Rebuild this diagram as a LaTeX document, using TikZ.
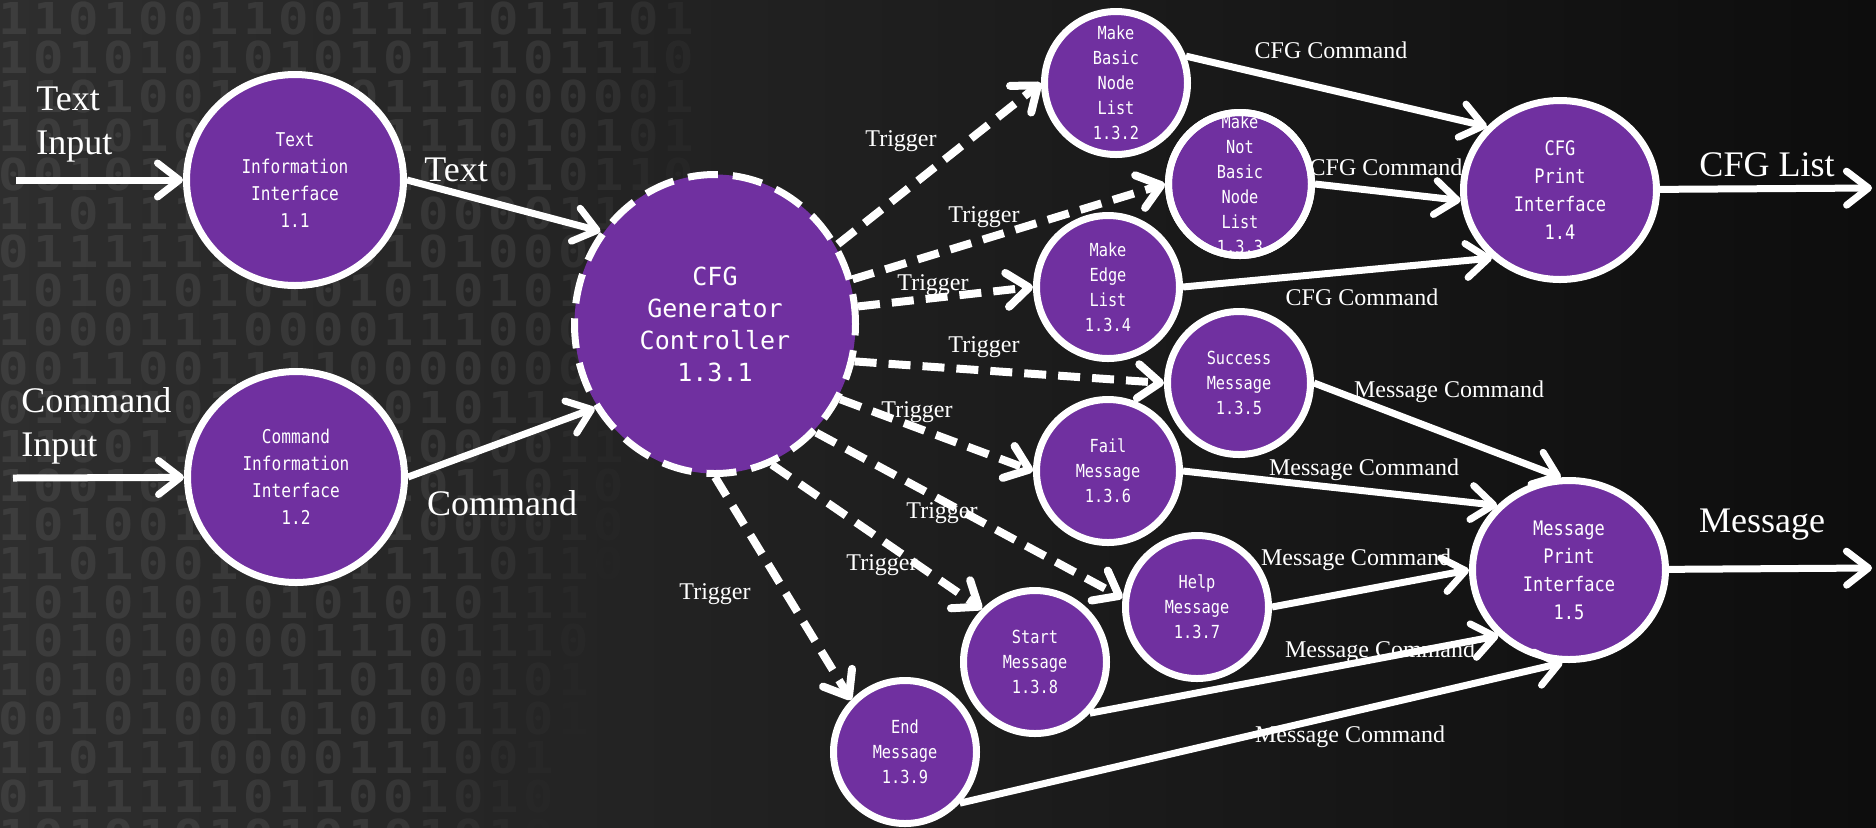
\documentclass[tikz,border=0pt]{standalone}
\usepackage{fontspec}
\setmainfont{Liberation Serif}
\newfontfamily\procfont[FakeStretch=0.85]{DejaVu Sans Mono}
\newfontfamily\ctrlfont{DejaVu Sans Mono}
\newfontfamily\bitfont[FakeStretch=1.15]{DejaVu Sans Mono Bold}
\usetikzlibrary{arrows.meta,shapes.geometric}

\definecolor{procpurple}{HTML}{7030A0}
\definecolor{bgleft}{HTML}{2E2E2E}
\definecolor{bgmid}{HTML}{1D1D1D}
\definecolor{bgright}{HTML}{0D0D0D}

% one row of background bits, fading out to the right
\newcommand\bitrow[2]{%
    \edef\bitrowno{#2}%
    \pgfmathsetmacro\bity{18.5+38.9*#2}\def\bitcol{0}%
    \expandafter\bitloop#1\relax}
\def\bitloop#1{%
    \ifx#1\relax\let\bitnext\relax
    \else
        \pgfmathsetmacro\bitx{14+35*\bitcol}%
        \pgfmathsetmacro\bitop{0.075*min(1,max(0,(770-0.25*\bity-\bitx)/180))}%
        \node[bit, text opacity=\bitop] (bit\bitrowno-\bitcol) at (\bitx,\bity) {#1};%
        \pgfmathtruncatemacro\bitcol{\bitcol+1}%
        \let\bitnext\bitloop
    \fi\bitnext}

\begin{document}
\begin{tikzpicture}[
        x=0.5pt, y=-0.5pt,
        font=\fontsize{12}{14}\selectfont,
        text=white
    ]
    \tikzset{
        bit/.style = {font=\bitfont\fontsize{22}{22}\selectfont, inner sep=0pt},
        procnode/.style = {circle, draw=white, line width=3.5pt, fill=procpurple, align=center, inner sep=0pt, minimum size=71.5pt, font=\procfont\fontsize{9}{12.5}\selectfont},
        ifacenode/.style = {procnode, ellipse, minimum width=108.5pt, minimum height=105.5pt, font=\procfont\fontsize{9.5}{13.5}\selectfont},
        printnode/.style = {procnode, ellipse, minimum width=96.5pt, minimum height=89.5pt, font=\procfont\fontsize{10}{14}\selectfont},
        ctrlnode/.style = {procnode, ellipse, minimum width=140.5pt, minimum height=149.5pt, dash pattern=on 15pt off 7.5pt, font=\ctrlfont\fontsize{12.5}{16}\selectfont},
        flow/.style = {-{Straight Barb[length=11pt, width=17pt, round]}, draw=white, line width=3.5pt},
        trig/.style = {flow, line width=4pt, dash pattern=on 11pt off 6pt},
        iolbl/.style = {inner sep=0pt, font=\fontsize{18}{22}\selectfont, align=left},
    }
    \useasboundingbox (0,0) rectangle (1876,827);
    \shade[left color=bgleft, middle color=bgmid, right color=bgright] (0,0) rectangle (1876,827);
    %
    \foreach \bits [count=\i from 0] in {
        11010011001111011101, 10101010101011101110, 11010010010111000001,
        10101010100111010101, 00101010101101010110, 11011110100100001101,
        01111111010101000111, 10101010101010101111, 10001110000111000011,
        00110011110000000010, 01001010110010111001, 11001101011100001101,
        10010100110101101000, 10100101011100001001, 11010010011111011011,
        10101010101010111010, 10101000011101110101, 10101001110100101011,
        00101001010101101110, 11011100001110011011, 01111110110010101010,
        10101010101010101010}
        {\bitrow{\bits}{\i}}
    %
    \node[ifacenode] at (295,180) (t11) {Text\\Information\\Interface\\1.1};
    \node[ifacenode] at (296,477) (c12) {Command\\Information\\Interface\\1.2};
    \node[ctrlnode] at (715,324) (cfg) {CFG\\Generator\\Controller\\1.3.1};
    \node[procnode] at (1116,83) (mb) {Make\\Basic\\Node\\List\\1.3.2};
    \node[procnode, inner sep=-2pt] at (1240,184) (mnb) {Make\\Not\\Basic\\Node\\List\\1.3.3};
    \node[procnode] at (1108,287) (me) {Make\\Edge\\List\\1.3.4};
    \node[procnode] at (1239,383) (sm) {Success\\Message\\1.3.5};
    \node[procnode] at (1108,471) (fm) {Fail\\Message\\1.3.6};
    \node[procnode] at (1197,607) (hm) {Help\\Message\\1.3.7};
    \node[procnode] at (1035,662) (stm) {Start\\Message\\1.3.8};
    \node[procnode] at (905,752) (em) {End\\Message\\1.3.9};
    \node[printnode] at (1560,190) (cp) {CFG\\Print\\Interface\\1.4};
    \node[printnode] at (1569,570) (mp) {Message\\Print\\Interface\\1.5};
    \draw[white, line width=3.5pt] (mnb.center) circle[radius=35.75pt];
    %
    \coordinate (tin) at (16,180);
    \coordinate (cin) at (13,478);
    \coordinate (cpout) at (1872,188);
    \coordinate (mpout) at (1872,568);
    %
    \node[iolbl, anchor=west] at (36,125) (ltin) {Text\\Input};
    \node[iolbl, anchor=west] at (21,426) (lcin) {Command\\Input};
    \node[iolbl] at (456,170) (ltxt) {Text};
    \node[iolbl] at (502,503) (lcmd) {Command};
    \node[iolbl] at (1767,165) (lcfg) {CFG List};
    \node[iolbl] at (1762,525) (lmsg) {Message};
    %
    \node at (901,141) (ltr1) {Trigger};
    \node at (984,217) (ltr2) {Trigger};
    \node at (933,285) (ltr3) {Trigger};
    \node at (984,347) (ltr4) {Trigger};
    \node at (917,412) (ltr5) {Trigger};
    \node at (942,513) (ltr6) {Trigger};
    \node at (882,565) (ltr7) {Trigger};
    \node at (715,594) (ltr8) {Trigger};
    %
    \node at (1331,50) (lcc1) {CFG Command};
    \node at (1386,167) (lcc2) {CFG Command};
    \node at (1362,297) (lcc3) {CFG Command};
    \node at (1449,392) (lmc1) {Message Command};
    \node at (1364,470) (lmc2) {Message Command};
    \node at (1356,560) (lmc3) {Message Command};
    \node at (1380,652) (lmc4) {Message Command};
    \node at (1350,737) (lmc5) {Message Command};
    %
    \draw[flow] (tin) -- (t11);
    \draw[flow] (cin) -- (c12);
    \draw[flow] (t11.east) -- (cfg.141);
    \draw[flow] (c12.east) -- (cfg.215);
    %
    \draw[trig] (cfg.33) -- (mb.west);
    \draw[trig] (cfg.18) -- (mnb.west);
    \draw[trig] (cfg.7) -- (me.west);
    \draw[trig] (cfg.-15) -- (sm.west);
    \draw[trig] (cfg.-31) -- (fm.west);
    \draw[trig] (cfg.-47) -- (hm.173);
    \draw[trig] (cfg.-68) -- (stm.135);
    \draw[trig] (cfg.-90) -- (em.136);
    %
    \draw[flow] (mb.21) -- (cp.139);
    \draw[flow] (mnb.east) -- (cp.186);
    \draw[flow] (me.east) -- (cp.225);
    \draw[flow] (cp) -- (cpout);
    %
    \draw[flow] (sm.east) -- (mp.95);
    \draw[flow] (fm.east) -- (mp.138);
    \draw[flow] (hm.east) -- (mp.west);
    \draw[flow] (stm.-43) -- (mp.223);
    \draw[flow] (em.-43) -- (mp.266);
    \draw[flow] (mp) -- (mpout);
\end{tikzpicture}
\end{document}
